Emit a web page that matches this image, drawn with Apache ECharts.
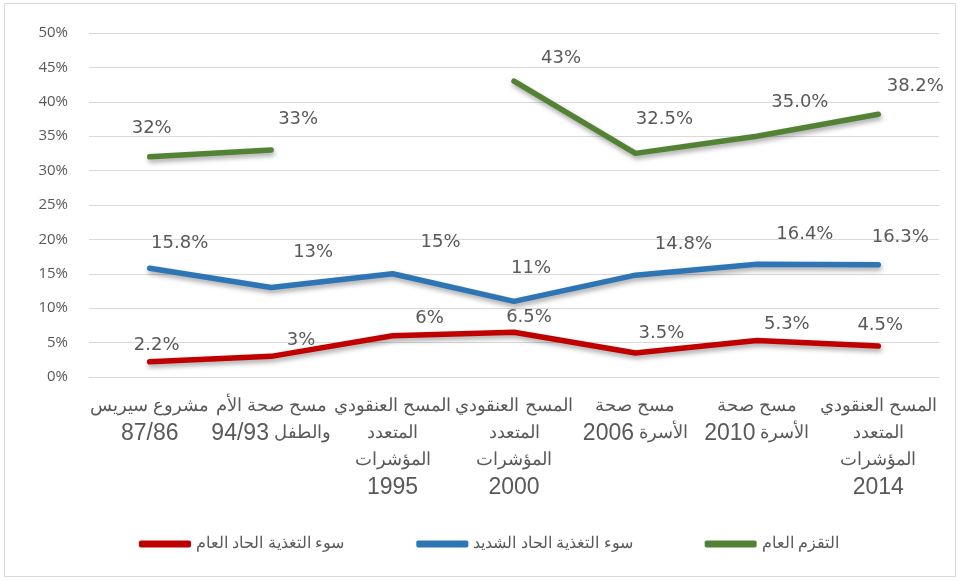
<!DOCTYPE html>
<html>
<head>
<meta charset="utf-8">
<script src="https://cdn.jsdelivr.net/npm/echarts@6/dist/echarts.min.js"></script>
<style>
  html, body { margin: 0; padding: 0; background: #fff; }
  #chart { width: 960px; height: 581px; }
</style>
</head>
<body>
<div id="chart" dir="rtl"></div>
<script>
// categories (each label is broken in lines the way the original wraps them)
var categories = [
  'مشروع سيريس\n87/86',
  'مسح صحة الأم\nوالطفل 94/93',
  'المسح العنقودي\nالمتعدد\nالمؤشرات\n1995',
  'المسح العنقودي\nالمتعدد\nالمؤشرات\n2000',
  'مسح صحة\nالأسرة 2006',
  'مسح صحة\nالأسرة 2010',
  'المسح العنقودي\nالمتعدد\nالمؤشرات\n2014'
];

var seriesNames = ['التقزم العام', 'سوء التغذية الحاد الشديد', 'سوء التغذية الحاد العام'];

var stunting = [32, 33, null, 43, 32.5, 35.0, 38.2];
var severeWasting = [15.8, 13, 15, 11, 14.8, 16.4, 16.3];
var wasting = [2.2, 3, 6, 6.5, 3.5, 5.3, 4.5];

// label text as shown in the source
var stuntingLabels = ['32%', '33%', '', '43%', '32.5%', '35.0%', '38.2%'];
var severeLabels = ['15.8%', '13%', '15%', '11%', '14.8%', '16.4%', '16.3%'];
var wastingLabels = ['2.2%', '3%', '6%', '6.5%', '3.5%', '5.3%', '4.5%'];

var yTicks = [0, 5, 10, 15, 20, 25, 30, 35, 40, 45, 50];

// where each data label sits relative to its point
var stuntingNudge = [[2, -29], [27, -31], [0, 0], [47, -23], [29, -34], [43, -34], [37, -28]];
var severeNudge = [[30, -25], [42, -35], [48, -31], [17, -33], [48, -31], [48, -30], [22, -28]];
var wastingNudge = [[7, -17], [30, -16], [37, -17], [15, -15], [26, -20], [30, -16], [2, -21]];

var colors = ['#548235', '#2E75B6', '#C00000'];
var textColor = '#595959';

// rich text lays tokens out left to right, so put Arabic lines in visual order
// and give the numbers their larger size
function axisLabelText(label) {
  return label.split('\n').map(function (line) {
    var runs = [];
    line.split(' ').forEach(function (w) {
      if (!w) return;
      var isNum = /^[0-9\/]+$/.test(w);
      var last = runs[runs.length - 1];
      if (last && last.num === isNum) last.text += ' ' + w;
      else runs.push({ num: isNum, text: w });
    });
    if (/[\u0600-\u06FF]/.test(line)) runs.reverse();
    return runs.map(function (r) {
      return '{' + (r.num ? 'n' : 'a') + '|' + r.text + '}';
    }).join('{a| }');
  }).join('\n');
}

function makeSeries(name, values, labels, nudge, color) {
  return {
    name: name,
    type: 'line',
    data: values.map(function (v, i) {
      return {
        value: v,
        label: { formatter: labels[i], offset: nudge[i] }
      };
    }),
    connectNulls: false,
    symbol: 'circle',
    symbolSize: 1,
    showSymbol: true,
    itemStyle: { color: color },
    lineStyle: {
      color: color,
      width: 5.5,
      cap: 'round',
      join: 'round',
      shadowColor: 'rgba(0,0,0,0.35)',
      shadowBlur: 5,
      shadowOffsetY: 3,
      shadowOffsetX: 1
    },
    label: {
      show: true,
      position: 'inside',
      color: textColor,
      fontSize: 18,
      fontFamily: 'DejaVu Sans, Verdana, sans-serif'
    },
    emphasis: { disabled: true },
    animation: false
  };
}

var chart = echarts.init(document.getElementById('chart'), null, { renderer: 'canvas' });

chart.setOption({
  animation: false,
  graphic: [{
    type: 'rect',
    shape: { x: 4.5, y: 3.5, width: 951, height: 573 },
    style: { fill: 'none', stroke: '#d9d9d9', lineWidth: 1 },
    silent: true,
    z: -1
  }],
  grid: { left: 89, right: 21, top: 33, bottom: 204, containLabel: false },
  legend: {
    data: [seriesNames[2], seriesNames[1], seriesNames[0]],
    left: 134,
    top: 531,
    icon: 'roundRect',
    itemWidth: 52,
    itemHeight: 7,
    itemGap: 72,
    textStyle: { color: textColor, fontSize: 16, fontFamily: 'Liberation Sans, Arial, sans-serif' },
    selectedMode: false
  },
  xAxis: {
    type: 'category',
    data: categories,
    boundaryGap: true,
    axisLine: { show: true, lineStyle: { color: '#d9d9d9', width: 1 } },
    axisTick: { show: false },
    axisLabel: {
      interval: 0,
      color: textColor,
      margin: 16,
      formatter: axisLabelText,
      rich: {
        a: { fontSize: 18, lineHeight: 27, color: textColor, fontFamily: 'Liberation Sans, Arial, sans-serif' },
        n: { fontSize: 23, lineHeight: 27, color: textColor, fontFamily: 'Liberation Sans, Arial, sans-serif' }
      }
    }
  },
  yAxis: {
    type: 'value',
    min: yTicks[0],
    max: yTicks[yTicks.length - 1],
    interval: yTicks[1] - yTicks[0],
    axisLine: { show: false },
    axisTick: { show: false },
    splitLine: { lineStyle: { color: '#d9d9d9', width: 1 } },
    axisLabel: {
      formatter: '{value}%',
      color: textColor,
      fontSize: 15,
      margin: 21,
      fontFamily: 'Open Sans, Liberation Sans, sans-serif'
    }
  },
  series: [
    makeSeries(seriesNames[0], stunting, stuntingLabels, stuntingNudge, colors[0]),
    makeSeries(seriesNames[1], severeWasting, severeLabels, severeNudge, colors[1]),
    makeSeries(seriesNames[2], wasting, wastingLabels, wastingNudge, colors[2])
  ]
});
</script>
</body>
</html>
